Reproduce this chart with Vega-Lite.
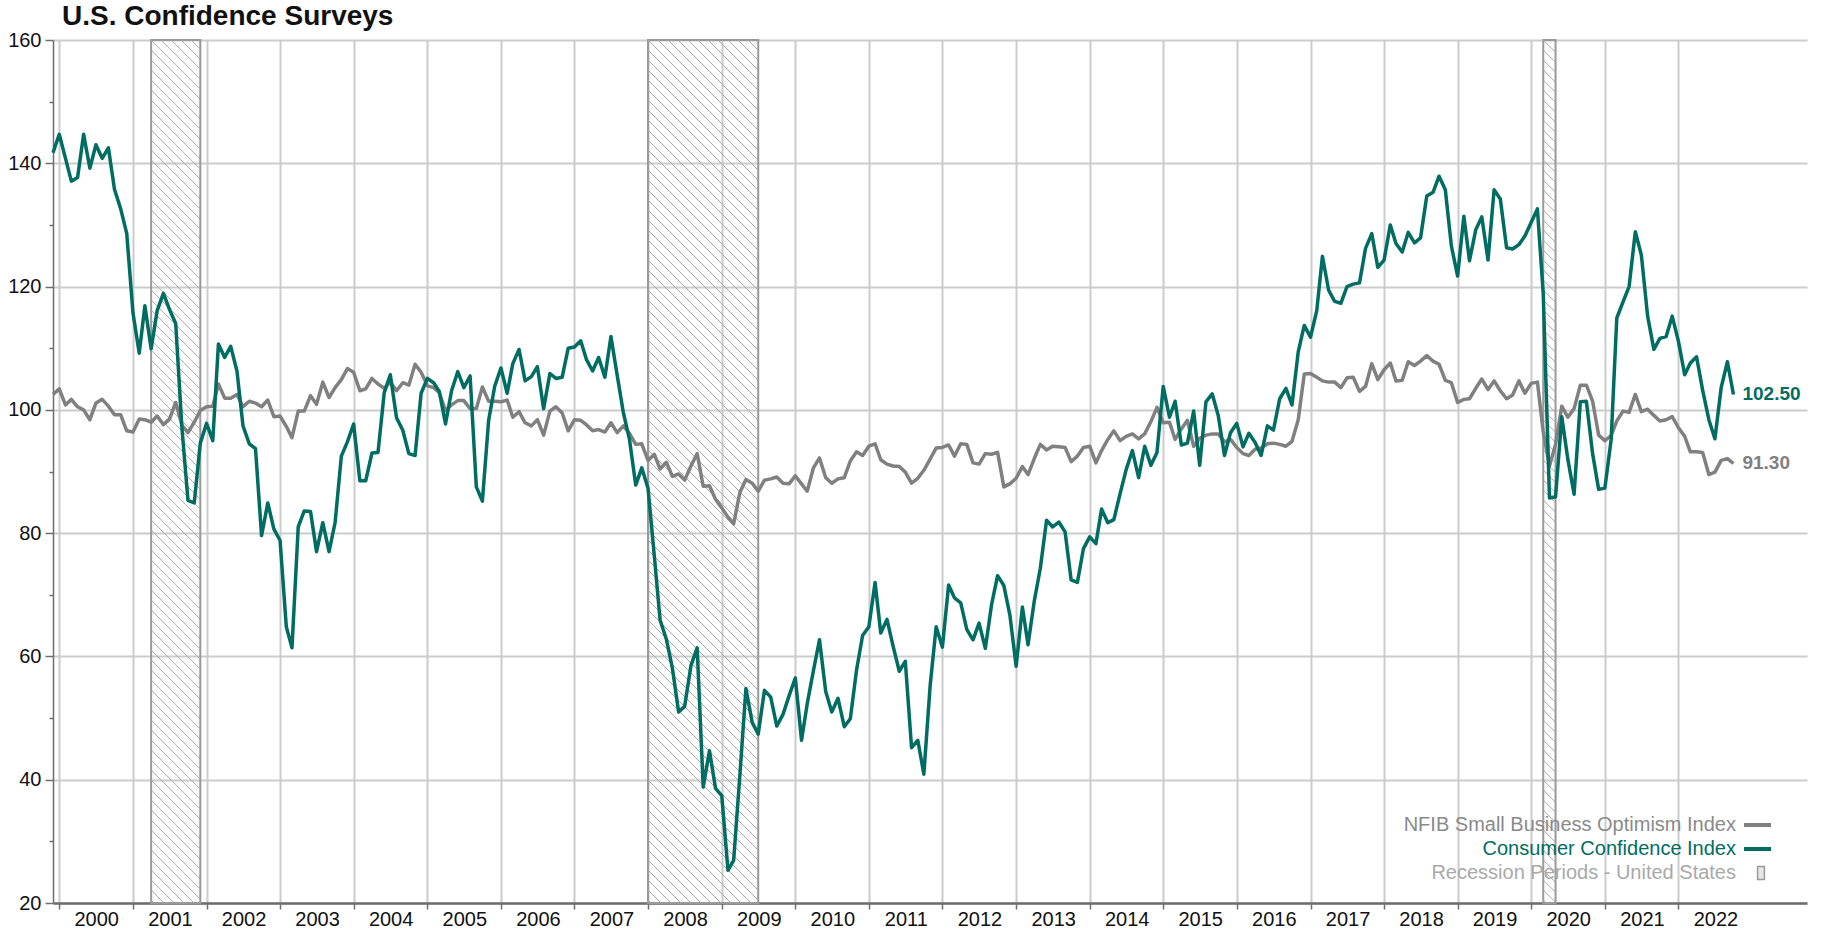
{
  "$schema": "https://vega.github.io/schema/vega-lite/v6.json",
  "width": 1754,
  "height": 863,
  "autosize": {"type": "none"},
  "padding": {"left": 53, "top": 40, "right": 14, "bottom": 32},
  "background": "#ffffff",
  "title": {"text": "U.S. Confidence Surveys", "anchor": "start", "frame": "group", "font": "Liberation Sans", "fontSize": 28, "fontWeight": "bold", "color": "#111111", "dx": 9, "dy": 24, "offset": 1, "baseline": "alphabetic"},
  "config": {"view": {"stroke": null}, "font": "Liberation Sans"},
  "datasets": {
    "rec": [
      {"start": "2001-04-01", "end": "2001-12-01", "series": "rec", "key": "r"},
      {"start": "2008-01-01", "end": "2009-07-01", "series": "rec", "key": "r"},
      {"start": "2020-03-01", "end": "2020-05-01", "series": "rec", "key": "r"}
    ],
    "monthly": [
      {"date": "1999-12-01", "nfib": 102.5, "cci": 141.7},
      {"date": "2000-01-01", "nfib": 103.4, "cci": 144.7},
      {"date": "2000-02-01", "nfib": 100.8, "cci": 140.8},
      {"date": "2000-03-01", "nfib": 101.7, "cci": 137.1},
      {"date": "2000-04-01", "nfib": 100.5, "cci": 137.7},
      {"date": "2000-05-01", "nfib": 100.0, "cci": 144.7},
      {"date": "2000-06-01", "nfib": 98.4, "cci": 139.2},
      {"date": "2000-07-01", "nfib": 101.1, "cci": 143.0},
      {"date": "2000-08-01", "nfib": 101.7, "cci": 140.8},
      {"date": "2000-09-01", "nfib": 100.6, "cci": 142.5},
      {"date": "2000-10-01", "nfib": 99.2, "cci": 135.8},
      {"date": "2000-11-01", "nfib": 99.2, "cci": 132.6},
      {"date": "2000-12-01", "nfib": 96.6, "cci": 128.6},
      {"date": "2001-01-01", "nfib": 96.4, "cci": 115.7},
      {"date": "2001-02-01", "nfib": 98.5, "cci": 109.2},
      {"date": "2001-03-01", "nfib": 98.4, "cci": 116.9},
      {"date": "2001-04-01", "nfib": 98.0, "cci": 109.9},
      {"date": "2001-05-01", "nfib": 99.0, "cci": 116.1},
      {"date": "2001-06-01", "nfib": 97.6, "cci": 118.9},
      {"date": "2001-07-01", "nfib": 98.5, "cci": 116.3},
      {"date": "2001-08-01", "nfib": 101.2, "cci": 114.0},
      {"date": "2001-09-01", "nfib": 97.5, "cci": 97.0},
      {"date": "2001-10-01", "nfib": 96.3, "cci": 85.3},
      {"date": "2001-11-01", "nfib": 98.0, "cci": 84.9},
      {"date": "2001-12-01", "nfib": 99.9, "cci": 94.6},
      {"date": "2002-01-01", "nfib": 100.5, "cci": 97.8},
      {"date": "2002-02-01", "nfib": 100.6, "cci": 95.0},
      {"date": "2002-03-01", "nfib": 104.2, "cci": 110.7},
      {"date": "2002-04-01", "nfib": 101.9, "cci": 108.5},
      {"date": "2002-05-01", "nfib": 101.9, "cci": 110.3},
      {"date": "2002-06-01", "nfib": 102.5, "cci": 106.3},
      {"date": "2002-07-01", "nfib": 100.5, "cci": 97.4},
      {"date": "2002-08-01", "nfib": 101.4, "cci": 94.5},
      {"date": "2002-09-01", "nfib": 101.1, "cci": 93.7},
      {"date": "2002-10-01", "nfib": 100.5, "cci": 79.6},
      {"date": "2002-11-01", "nfib": 101.6, "cci": 84.9},
      {"date": "2002-12-01", "nfib": 98.9, "cci": 80.7},
      {"date": "2003-01-01", "nfib": 99.0, "cci": 78.8},
      {"date": "2003-02-01", "nfib": 97.3, "cci": 64.8},
      {"date": "2003-03-01", "nfib": 95.5, "cci": 61.4},
      {"date": "2003-04-01", "nfib": 99.8, "cci": 81.0},
      {"date": "2003-05-01", "nfib": 99.8, "cci": 83.6},
      {"date": "2003-06-01", "nfib": 102.3, "cci": 83.5},
      {"date": "2003-07-01", "nfib": 100.9, "cci": 77.0},
      {"date": "2003-08-01", "nfib": 104.5, "cci": 81.7},
      {"date": "2003-09-01", "nfib": 102.0, "cci": 77.0},
      {"date": "2003-10-01", "nfib": 103.6, "cci": 81.7},
      {"date": "2003-11-01", "nfib": 104.9, "cci": 92.5},
      {"date": "2003-12-01", "nfib": 106.7, "cci": 94.8},
      {"date": "2004-01-01", "nfib": 106.1, "cci": 97.7},
      {"date": "2004-02-01", "nfib": 103.1, "cci": 88.5},
      {"date": "2004-03-01", "nfib": 103.4, "cci": 88.5},
      {"date": "2004-04-01", "nfib": 105.1, "cci": 93.0},
      {"date": "2004-05-01", "nfib": 104.2, "cci": 93.1},
      {"date": "2004-06-01", "nfib": 103.5, "cci": 102.8},
      {"date": "2004-07-01", "nfib": 104.5, "cci": 105.7},
      {"date": "2004-08-01", "nfib": 103.1, "cci": 98.7},
      {"date": "2004-09-01", "nfib": 104.4, "cci": 96.7},
      {"date": "2004-10-01", "nfib": 104.0, "cci": 92.9},
      {"date": "2004-11-01", "nfib": 107.4, "cci": 92.6},
      {"date": "2004-12-01", "nfib": 106.1, "cci": 102.7},
      {"date": "2005-01-01", "nfib": 103.9, "cci": 105.1},
      {"date": "2005-02-01", "nfib": 103.6, "cci": 104.4},
      {"date": "2005-03-01", "nfib": 102.8, "cci": 103.0},
      {"date": "2005-04-01", "nfib": 99.9, "cci": 97.7},
      {"date": "2005-05-01", "nfib": 100.8, "cci": 103.1},
      {"date": "2005-06-01", "nfib": 101.5, "cci": 106.2},
      {"date": "2005-07-01", "nfib": 101.5, "cci": 103.6},
      {"date": "2005-08-01", "nfib": 100.2, "cci": 105.5},
      {"date": "2005-09-01", "nfib": 100.2, "cci": 87.5},
      {"date": "2005-10-01", "nfib": 103.7, "cci": 85.2},
      {"date": "2005-11-01", "nfib": 101.4, "cci": 98.3},
      {"date": "2005-12-01", "nfib": 101.4, "cci": 103.8},
      {"date": "2006-01-01", "nfib": 101.3, "cci": 106.8},
      {"date": "2006-02-01", "nfib": 101.6, "cci": 102.7},
      {"date": "2006-03-01", "nfib": 98.8, "cci": 107.5},
      {"date": "2006-04-01", "nfib": 99.7, "cci": 109.8},
      {"date": "2006-05-01", "nfib": 97.9, "cci": 104.7},
      {"date": "2006-06-01", "nfib": 97.4, "cci": 105.4},
      {"date": "2006-07-01", "nfib": 98.4, "cci": 107.0},
      {"date": "2006-08-01", "nfib": 95.9, "cci": 100.2},
      {"date": "2006-09-01", "nfib": 99.8, "cci": 105.9},
      {"date": "2006-10-01", "nfib": 100.5, "cci": 105.1},
      {"date": "2006-11-01", "nfib": 99.5, "cci": 105.3},
      {"date": "2006-12-01", "nfib": 96.6, "cci": 110.0},
      {"date": "2007-01-01", "nfib": 98.4, "cci": 110.2},
      {"date": "2007-02-01", "nfib": 98.3, "cci": 111.2},
      {"date": "2007-03-01", "nfib": 97.6, "cci": 108.2},
      {"date": "2007-04-01", "nfib": 96.6, "cci": 106.3},
      {"date": "2007-05-01", "nfib": 96.8, "cci": 108.5},
      {"date": "2007-06-01", "nfib": 96.4, "cci": 105.3},
      {"date": "2007-07-01", "nfib": 97.9, "cci": 111.9},
      {"date": "2007-08-01", "nfib": 96.3, "cci": 105.6},
      {"date": "2007-09-01", "nfib": 97.4, "cci": 99.5},
      {"date": "2007-10-01", "nfib": 96.2, "cci": 95.2},
      {"date": "2007-11-01", "nfib": 94.4, "cci": 87.8},
      {"date": "2007-12-01", "nfib": 94.5, "cci": 90.6},
      {"date": "2008-01-01", "nfib": 91.8, "cci": 87.3},
      {"date": "2008-02-01", "nfib": 92.8, "cci": 76.4},
      {"date": "2008-03-01", "nfib": 90.4, "cci": 65.9},
      {"date": "2008-04-01", "nfib": 91.5, "cci": 62.8},
      {"date": "2008-05-01", "nfib": 89.2, "cci": 58.1},
      {"date": "2008-06-01", "nfib": 89.6, "cci": 51.0},
      {"date": "2008-07-01", "nfib": 88.6, "cci": 51.9},
      {"date": "2008-08-01", "nfib": 90.9, "cci": 58.5},
      {"date": "2008-09-01", "nfib": 92.9, "cci": 61.4},
      {"date": "2008-10-01", "nfib": 87.6, "cci": 38.8},
      {"date": "2008-11-01", "nfib": 87.7, "cci": 44.7},
      {"date": "2008-12-01", "nfib": 85.5, "cci": 38.6},
      {"date": "2009-01-01", "nfib": 84.1, "cci": 37.4},
      {"date": "2009-02-01", "nfib": 82.6, "cci": 25.3},
      {"date": "2009-03-01", "nfib": 81.5, "cci": 26.9},
      {"date": "2009-04-01", "nfib": 86.6, "cci": 40.8},
      {"date": "2009-05-01", "nfib": 88.7, "cci": 54.8},
      {"date": "2009-06-01", "nfib": 88.1, "cci": 49.3},
      {"date": "2009-07-01", "nfib": 86.8, "cci": 47.4},
      {"date": "2009-08-01", "nfib": 88.6, "cci": 54.5},
      {"date": "2009-09-01", "nfib": 88.8, "cci": 53.4},
      {"date": "2009-10-01", "nfib": 89.1, "cci": 48.7},
      {"date": "2009-11-01", "nfib": 88.1, "cci": 50.6},
      {"date": "2009-12-01", "nfib": 88.0, "cci": 53.6},
      {"date": "2010-01-01", "nfib": 89.3, "cci": 56.5},
      {"date": "2010-02-01", "nfib": 88.0, "cci": 46.4},
      {"date": "2010-03-01", "nfib": 86.8, "cci": 52.3},
      {"date": "2010-04-01", "nfib": 90.6, "cci": 57.7},
      {"date": "2010-05-01", "nfib": 92.2, "cci": 62.7},
      {"date": "2010-06-01", "nfib": 89.0, "cci": 54.3},
      {"date": "2010-07-01", "nfib": 88.1, "cci": 51.0},
      {"date": "2010-08-01", "nfib": 88.8, "cci": 53.2},
      {"date": "2010-09-01", "nfib": 89.0, "cci": 48.6},
      {"date": "2010-10-01", "nfib": 91.7, "cci": 49.9},
      {"date": "2010-11-01", "nfib": 93.2, "cci": 57.8},
      {"date": "2010-12-01", "nfib": 92.6, "cci": 63.4},
      {"date": "2011-01-01", "nfib": 94.1, "cci": 64.8},
      {"date": "2011-02-01", "nfib": 94.5, "cci": 72.0},
      {"date": "2011-03-01", "nfib": 91.9, "cci": 63.8},
      {"date": "2011-04-01", "nfib": 91.2, "cci": 66.0},
      {"date": "2011-05-01", "nfib": 90.9, "cci": 61.7},
      {"date": "2011-06-01", "nfib": 90.8, "cci": 57.6},
      {"date": "2011-07-01", "nfib": 89.9, "cci": 59.2},
      {"date": "2011-08-01", "nfib": 88.1, "cci": 45.2},
      {"date": "2011-09-01", "nfib": 88.9, "cci": 46.4},
      {"date": "2011-10-01", "nfib": 90.2, "cci": 40.9},
      {"date": "2011-11-01", "nfib": 92.0, "cci": 55.2},
      {"date": "2011-12-01", "nfib": 93.8, "cci": 64.8},
      {"date": "2012-01-01", "nfib": 93.9, "cci": 61.5},
      {"date": "2012-02-01", "nfib": 94.3, "cci": 71.6},
      {"date": "2012-03-01", "nfib": 92.5, "cci": 69.5},
      {"date": "2012-04-01", "nfib": 94.5, "cci": 68.7},
      {"date": "2012-05-01", "nfib": 94.4, "cci": 64.4},
      {"date": "2012-06-01", "nfib": 91.4, "cci": 62.7},
      {"date": "2012-07-01", "nfib": 91.2, "cci": 65.4},
      {"date": "2012-08-01", "nfib": 92.9, "cci": 61.3},
      {"date": "2012-09-01", "nfib": 92.8, "cci": 68.4},
      {"date": "2012-10-01", "nfib": 93.1, "cci": 73.1},
      {"date": "2012-11-01", "nfib": 87.5, "cci": 71.5},
      {"date": "2012-12-01", "nfib": 88.0, "cci": 66.7},
      {"date": "2013-01-01", "nfib": 88.9, "cci": 58.4},
      {"date": "2013-02-01", "nfib": 90.8, "cci": 68.0},
      {"date": "2013-03-01", "nfib": 89.5, "cci": 61.9},
      {"date": "2013-04-01", "nfib": 92.1, "cci": 69.0},
      {"date": "2013-05-01", "nfib": 94.4, "cci": 74.3},
      {"date": "2013-06-01", "nfib": 93.5, "cci": 82.1},
      {"date": "2013-07-01", "nfib": 94.1, "cci": 81.0},
      {"date": "2013-08-01", "nfib": 94.0, "cci": 81.8},
      {"date": "2013-09-01", "nfib": 93.9, "cci": 80.2},
      {"date": "2013-10-01", "nfib": 91.6, "cci": 72.4},
      {"date": "2013-11-01", "nfib": 92.5, "cci": 72.0},
      {"date": "2013-12-01", "nfib": 93.9, "cci": 77.5},
      {"date": "2014-01-01", "nfib": 94.1, "cci": 79.4},
      {"date": "2014-02-01", "nfib": 91.4, "cci": 78.3},
      {"date": "2014-03-01", "nfib": 93.4, "cci": 83.9},
      {"date": "2014-04-01", "nfib": 95.2, "cci": 81.7},
      {"date": "2014-05-01", "nfib": 96.6, "cci": 82.2},
      {"date": "2014-06-01", "nfib": 95.0, "cci": 86.4},
      {"date": "2014-07-01", "nfib": 95.7, "cci": 90.3},
      {"date": "2014-08-01", "nfib": 96.1, "cci": 93.4},
      {"date": "2014-09-01", "nfib": 95.3, "cci": 89.0},
      {"date": "2014-10-01", "nfib": 96.1, "cci": 94.1},
      {"date": "2014-11-01", "nfib": 98.1, "cci": 91.0},
      {"date": "2014-12-01", "nfib": 100.4, "cci": 93.1},
      {"date": "2015-01-01", "nfib": 97.9, "cci": 103.8},
      {"date": "2015-02-01", "nfib": 98.0, "cci": 98.8},
      {"date": "2015-03-01", "nfib": 95.2, "cci": 101.4},
      {"date": "2015-04-01", "nfib": 96.9, "cci": 94.3},
      {"date": "2015-05-01", "nfib": 98.3, "cci": 94.6},
      {"date": "2015-06-01", "nfib": 94.1, "cci": 99.8},
      {"date": "2015-07-01", "nfib": 95.4, "cci": 91.0},
      {"date": "2015-08-01", "nfib": 95.9, "cci": 101.3},
      {"date": "2015-09-01", "nfib": 96.1, "cci": 102.6},
      {"date": "2015-10-01", "nfib": 96.1, "cci": 99.1},
      {"date": "2015-11-01", "nfib": 94.8, "cci": 92.6},
      {"date": "2015-12-01", "nfib": 95.2, "cci": 96.3},
      {"date": "2016-01-01", "nfib": 93.9, "cci": 97.8},
      {"date": "2016-02-01", "nfib": 92.9, "cci": 94.0},
      {"date": "2016-03-01", "nfib": 92.6, "cci": 96.2},
      {"date": "2016-04-01", "nfib": 93.6, "cci": 94.7},
      {"date": "2016-05-01", "nfib": 93.8, "cci": 92.6},
      {"date": "2016-06-01", "nfib": 94.5, "cci": 97.4},
      {"date": "2016-07-01", "nfib": 94.6, "cci": 96.7},
      {"date": "2016-08-01", "nfib": 94.4, "cci": 101.8},
      {"date": "2016-09-01", "nfib": 94.1, "cci": 103.5},
      {"date": "2016-10-01", "nfib": 94.9, "cci": 100.8},
      {"date": "2016-11-01", "nfib": 98.4, "cci": 109.4},
      {"date": "2016-12-01", "nfib": 105.8, "cci": 113.7},
      {"date": "2017-01-01", "nfib": 105.9, "cci": 111.8},
      {"date": "2017-02-01", "nfib": 105.3, "cci": 116.1},
      {"date": "2017-03-01", "nfib": 104.7, "cci": 124.9},
      {"date": "2017-04-01", "nfib": 104.5, "cci": 119.4},
      {"date": "2017-05-01", "nfib": 104.5, "cci": 117.6},
      {"date": "2017-06-01", "nfib": 103.6, "cci": 117.3},
      {"date": "2017-07-01", "nfib": 105.2, "cci": 120.0},
      {"date": "2017-08-01", "nfib": 105.3, "cci": 120.4},
      {"date": "2017-09-01", "nfib": 103.0, "cci": 120.6},
      {"date": "2017-10-01", "nfib": 103.8, "cci": 126.2},
      {"date": "2017-11-01", "nfib": 107.5, "cci": 128.6},
      {"date": "2017-12-01", "nfib": 104.9, "cci": 123.1},
      {"date": "2018-01-01", "nfib": 106.5, "cci": 124.3},
      {"date": "2018-02-01", "nfib": 107.6, "cci": 130.0},
      {"date": "2018-03-01", "nfib": 104.7, "cci": 127.0},
      {"date": "2018-04-01", "nfib": 104.8, "cci": 125.6},
      {"date": "2018-05-01", "nfib": 107.8, "cci": 128.8},
      {"date": "2018-06-01", "nfib": 107.2, "cci": 127.1},
      {"date": "2018-07-01", "nfib": 107.9, "cci": 127.9},
      {"date": "2018-08-01", "nfib": 108.8, "cci": 134.7},
      {"date": "2018-09-01", "nfib": 107.9, "cci": 135.3},
      {"date": "2018-10-01", "nfib": 107.4, "cci": 137.9},
      {"date": "2018-11-01", "nfib": 104.8, "cci": 135.7},
      {"date": "2018-12-01", "nfib": 104.4, "cci": 126.6},
      {"date": "2019-01-01", "nfib": 101.2, "cci": 121.7},
      {"date": "2019-02-01", "nfib": 101.7, "cci": 131.4},
      {"date": "2019-03-01", "nfib": 101.8, "cci": 124.2},
      {"date": "2019-04-01", "nfib": 103.5, "cci": 129.2},
      {"date": "2019-05-01", "nfib": 105.0, "cci": 131.3},
      {"date": "2019-06-01", "nfib": 103.3, "cci": 124.3},
      {"date": "2019-07-01", "nfib": 104.7, "cci": 135.7},
      {"date": "2019-08-01", "nfib": 103.1, "cci": 134.2},
      {"date": "2019-09-01", "nfib": 101.8, "cci": 126.3},
      {"date": "2019-10-01", "nfib": 102.4, "cci": 126.1},
      {"date": "2019-11-01", "nfib": 104.7, "cci": 126.8},
      {"date": "2019-12-01", "nfib": 102.7, "cci": 128.2},
      {"date": "2020-01-01", "nfib": 104.3, "cci": 130.4},
      {"date": "2020-02-01", "nfib": 104.5, "cci": 132.6},
      {"date": "2020-03-01", "nfib": 96.4, "cci": 118.8},
      {"date": "2020-04-01", "nfib": 90.9, "cci": 85.7},
      {"date": "2020-05-01", "nfib": 94.4, "cci": 85.9},
      {"date": "2020-06-01", "nfib": 100.6, "cci": 98.9},
      {"date": "2020-07-01", "nfib": 98.8, "cci": 92.0},
      {"date": "2020-08-01", "nfib": 100.2, "cci": 86.3},
      {"date": "2020-09-01", "nfib": 104.0, "cci": 101.3},
      {"date": "2020-10-01", "nfib": 104.0, "cci": 101.4},
      {"date": "2020-11-01", "nfib": 101.4, "cci": 92.9},
      {"date": "2020-12-01", "nfib": 95.9, "cci": 87.1},
      {"date": "2021-01-01", "nfib": 95.0, "cci": 87.3},
      {"date": "2021-02-01", "nfib": 95.8, "cci": 95.2},
      {"date": "2021-03-01", "nfib": 98.2, "cci": 114.9},
      {"date": "2021-04-01", "nfib": 99.8, "cci": 117.5},
      {"date": "2021-05-01", "nfib": 99.6, "cci": 120.0},
      {"date": "2021-06-01", "nfib": 102.5, "cci": 128.9},
      {"date": "2021-07-01", "nfib": 99.7, "cci": 125.1},
      {"date": "2021-08-01", "nfib": 100.1, "cci": 115.2},
      {"date": "2021-09-01", "nfib": 99.1, "cci": 109.8},
      {"date": "2021-10-01", "nfib": 98.2, "cci": 111.6},
      {"date": "2021-11-01", "nfib": 98.4, "cci": 111.9},
      {"date": "2021-12-01", "nfib": 98.9, "cci": 115.2},
      {"date": "2022-01-01", "nfib": 97.1, "cci": 111.1},
      {"date": "2022-02-01", "nfib": 95.7, "cci": 105.7},
      {"date": "2022-03-01", "nfib": 93.2, "cci": 107.6},
      {"date": "2022-04-01", "nfib": 93.2, "cci": 108.6},
      {"date": "2022-05-01", "nfib": 93.1, "cci": 103.2},
      {"date": "2022-06-01", "nfib": 89.5, "cci": 98.4},
      {"date": "2022-07-01", "nfib": 89.9, "cci": 95.3},
      {"date": "2022-08-01", "nfib": 91.8, "cci": 103.6},
      {"date": "2022-09-01", "nfib": 92.1, "cci": 107.8},
      {"date": "2022-10-01", "nfib": 91.3, "cci": 102.5}
    ]
  },
  "layer": [
    {
      "data": {"name": "rec"},
      "mark": {"type": "rect", "filled": false, "strokeWidth": 2},
      "encoding": {
        "x": {"field": "start", "type": "temporal", "title": null},
        "x2": {"field": "end"},
        "stroke": {"field": "key", "type": "nominal", "title": null,
          "scale": {"domain": ["n", "c", "r"], "range": ["#808080", "#006d63", "#999999"]},
          "legend": {"orient": "none", "legendX": 1398, "legendY": 775, "direction": "vertical", "title": null,
            "labelExpr": "''", "labelOffset": 0, "symbolOffset": 300, "labelLimit": 20,
            "labelFontSize": 20, "labelFont": "Liberation Sans", "symbolSize": 1156, "clipHeight": 20, "rowPadding": 4, "padding": 0,
            "encode": {
              "symbols": {"update": {
                "shape": {"signal": "datum.value === 'r' ? 'M-0.2,-0.38h0.4v0.76h-0.4z' : 'stroke'"},
                "stroke": {"signal": "datum.value === 'n' ? '#808080' : datum.value === 'c' ? '#006d63' : '#8c8c8c'"},
                "strokeWidth": {"signal": "datum.value === 'r' ? 1.5 : 4"},
                "fill": {"signal": "datum.value === 'r' ? '#e6e6e6' : 'transparent'"},
                "opacity": {"value": 1}}}}}}
      }
    },
    {
      "data": {"name": "rec"},
      "transform": [{"filter": "utcyear(datum.start) === 2001"}],
      "mark": {"type": "point", "filled": false, "size": 4, "color": "#a8a8a8", "strokeWidth": 1, "opacity": 1, "clip": true,
        "shape": "M40,0L49.2,9.2M30,0L49.2,19.2M20,0L49.2,29.2M10,0L49.2,39.2M0,0l49.2,49.2m-49.2,-39.2l49.2,49.2m-49.2,-39.2l49.2,49.2m-49.2,-39.2l49.2,49.2m-49.2,-39.2l49.2,49.2m-49.2,-39.2l49.2,49.2m-49.2,-39.2l49.2,49.2m-49.2,-39.2l49.2,49.2m-49.2,-39.2l49.2,49.2m-49.2,-39.2l49.2,49.2m-49.2,-39.2l49.2,49.2m-49.2,-39.2l49.2,49.2m-49.2,-39.2l49.2,49.2m-49.2,-39.2l49.2,49.2m-49.2,-39.2l49.2,49.2m-49.2,-39.2l49.2,49.2m-49.2,-39.2l49.2,49.2m-49.2,-39.2l49.2,49.2m-49.2,-39.2l49.2,49.2m-49.2,-39.2l49.2,49.2m-49.2,-39.2l49.2,49.2m-49.2,-39.2l49.2,49.2m-49.2,-39.2l49.2,49.2m-49.2,-39.2l49.2,49.2m-49.2,-39.2l49.2,49.2m-49.2,-39.2l49.2,49.2m-49.2,-39.2l49.2,49.2m-49.2,-39.2l49.2,49.2m-49.2,-39.2l49.2,49.2m-49.2,-39.2l49.2,49.2m-49.2,-39.2l49.2,49.2m-49.2,-39.2l49.2,49.2m-49.2,-39.2l49.2,49.2m-49.2,-39.2l49.2,49.2m-49.2,-39.2l49.2,49.2m-49.2,-39.2l49.2,49.2m-49.2,-39.2l49.2,49.2m-49.2,-39.2l49.2,49.2m-49.2,-39.2l49.2,49.2m-49.2,-39.2l49.2,49.2m-49.2,-39.2l49.2,49.2m-49.2,-39.2l49.2,49.2m-49.2,-39.2l49.2,49.2m-49.2,-39.2l49.2,49.2m-49.2,-39.2l49.2,49.2m-49.2,-39.2l49.2,49.2m-49.2,-39.2l49.2,49.2m-49.2,-39.2l49.2,49.2m-49.2,-39.2l49.2,49.2m-49.2,-39.2l49.2,49.2m-49.2,-39.2l49.2,49.2m-49.2,-39.2l49.2,49.2m-49.2,-39.2l49.2,49.2m-49.2,-39.2l49.2,49.2m-49.2,-39.2l49.2,49.2m-49.2,-39.2l49.2,49.2m-49.2,-39.2l49.2,49.2m-49.2,-39.2l49.2,49.2m-49.2,-39.2l49.2,49.2m-49.2,-39.2l49.2,49.2m-49.2,-39.2l49.2,49.2m-49.2,-39.2l49.2,49.2m-49.2,-39.2l49.2,49.2m-49.2,-39.2l49.2,49.2m-49.2,-39.2l49.2,49.2m-49.2,-39.2l49.2,49.2m-49.2,-39.2l49.2,49.2m-49.2,-39.2l49.2,49.2m-49.2,-39.2l49.2,49.2m-49.2,-39.2l49.2,49.2m-49.2,-39.2l49.2,49.2m-49.2,-39.2l49.2,49.2m-49.2,-39.2l49.2,49.2m-49.2,-39.2l49.2,49.2m-49.2,-39.2l49.2,49.2m-49.2,-39.2l49.2,49.2m-49.2,-39.2l49.2,49.2m-49.2,-39.2l49.2,49.2m-49.2,-39.2l49.2,49.2m-49.2,-39.2l49.2,49.2m-49.2,-39.2l49.2,49.2m-49.2,-39.2l49.2,49.2m-49.2,-39.2l49.2,49.2m-49.2,-39.2l49.2,49.2m-49.2,-39.2l49.2,49.2m-49.2,-39.2l49.2,49.2m-49.2,-39.2l49.2,49.2m-49.2,-39.2l49.2,49.2m-49.2,-39.2l49.2,49.2m-49.2,-39.2l49.2,49.2m-49.2,-39.2l49.2,49.2m-49.2,-39.2l49.2,49.2m-49.2,-39.2l49.2,49.2m-49.2,-39.2l49.2,49.2m-49.2,-39.2l49.2,49.2m-49.2,-39.2l49.2,49.2m-49.2,-39.2l49.2,49.2m-49.2,-39.2l49.2,49.2m-49.2,-39.2l49.2,49.2m-49.2,-39.2l49.2,49.2m-49.2,-39.2l49.2,49.2m-49.2,-39.2l49.2,49.2m-49.2,-39.2l49.2,49.2m-49.2,-39.2l49.2,49.2m-49.2,-39.2l49.2,49.2m-49.2,-39.2l49.2,49.2m-49.2,-39.2l49.2,49.2m-49.2,-39.2l49.2,49.2m-49.2,-39.2l49.2,49.2m-49.2,-39.2l49.2,49.2m-49.2,-39.2l49.2,49.2m-49.2,-39.2l49.2,49.2m-49.2,-39.2"},
      "encoding": {
        "x": {"field": "start", "type": "temporal", "title": null},
        "y": {"datum": 160, "type": "quantitative", "title": null}
      }
    },
    {
      "data": {"name": "rec"},
      "transform": [{"filter": "utcyear(datum.start) === 2008"}],
      "mark": {"type": "point", "filled": false, "size": 4, "color": "#a8a8a8", "strokeWidth": 1, "opacity": 1, "clip": true,
        "shape": "M100,0L110.2,10.2M90,0L110.2,20.2M80,0L110.2,30.2M70,0L110.2,40.2M60,0L110.2,50.2M50,0L110.2,60.2M40,0L110.2,70.2M30,0L110.2,80.2M20,0L110.2,90.2M10,0L110.2,100.2M0,0l110.2,110.2m-110.2,-100.2l110.2,110.2m-110.2,-100.2l110.2,110.2m-110.2,-100.2l110.2,110.2m-110.2,-100.2l110.2,110.2m-110.2,-100.2l110.2,110.2m-110.2,-100.2l110.2,110.2m-110.2,-100.2l110.2,110.2m-110.2,-100.2l110.2,110.2m-110.2,-100.2l110.2,110.2m-110.2,-100.2l110.2,110.2m-110.2,-100.2l110.2,110.2m-110.2,-100.2l110.2,110.2m-110.2,-100.2l110.2,110.2m-110.2,-100.2l110.2,110.2m-110.2,-100.2l110.2,110.2m-110.2,-100.2l110.2,110.2m-110.2,-100.2l110.2,110.2m-110.2,-100.2l110.2,110.2m-110.2,-100.2l110.2,110.2m-110.2,-100.2l110.2,110.2m-110.2,-100.2l110.2,110.2m-110.2,-100.2l110.2,110.2m-110.2,-100.2l110.2,110.2m-110.2,-100.2l110.2,110.2m-110.2,-100.2l110.2,110.2m-110.2,-100.2l110.2,110.2m-110.2,-100.2l110.2,110.2m-110.2,-100.2l110.2,110.2m-110.2,-100.2l110.2,110.2m-110.2,-100.2l110.2,110.2m-110.2,-100.2l110.2,110.2m-110.2,-100.2l110.2,110.2m-110.2,-100.2l110.2,110.2m-110.2,-100.2l110.2,110.2m-110.2,-100.2l110.2,110.2m-110.2,-100.2l110.2,110.2m-110.2,-100.2l110.2,110.2m-110.2,-100.2l110.2,110.2m-110.2,-100.2l110.2,110.2m-110.2,-100.2l110.2,110.2m-110.2,-100.2l110.2,110.2m-110.2,-100.2l110.2,110.2m-110.2,-100.2l110.2,110.2m-110.2,-100.2l110.2,110.2m-110.2,-100.2l110.2,110.2m-110.2,-100.2l110.2,110.2m-110.2,-100.2l110.2,110.2m-110.2,-100.2l110.2,110.2m-110.2,-100.2l110.2,110.2m-110.2,-100.2l110.2,110.2m-110.2,-100.2l110.2,110.2m-110.2,-100.2l110.2,110.2m-110.2,-100.2l110.2,110.2m-110.2,-100.2l110.2,110.2m-110.2,-100.2l110.2,110.2m-110.2,-100.2l110.2,110.2m-110.2,-100.2l110.2,110.2m-110.2,-100.2l110.2,110.2m-110.2,-100.2l110.2,110.2m-110.2,-100.2l110.2,110.2m-110.2,-100.2l110.2,110.2m-110.2,-100.2l110.2,110.2m-110.2,-100.2l110.2,110.2m-110.2,-100.2l110.2,110.2m-110.2,-100.2l110.2,110.2m-110.2,-100.2l110.2,110.2m-110.2,-100.2l110.2,110.2m-110.2,-100.2l110.2,110.2m-110.2,-100.2l110.2,110.2m-110.2,-100.2l110.2,110.2m-110.2,-100.2l110.2,110.2m-110.2,-100.2l110.2,110.2m-110.2,-100.2l110.2,110.2m-110.2,-100.2l110.2,110.2m-110.2,-100.2l110.2,110.2m-110.2,-100.2l110.2,110.2m-110.2,-100.2l110.2,110.2m-110.2,-100.2l110.2,110.2m-110.2,-100.2l110.2,110.2m-110.2,-100.2l110.2,110.2m-110.2,-100.2l110.2,110.2m-110.2,-100.2l110.2,110.2m-110.2,-100.2l110.2,110.2m-110.2,-100.2l110.2,110.2m-110.2,-100.2l110.2,110.2m-110.2,-100.2l110.2,110.2m-110.2,-100.2l110.2,110.2m-110.2,-100.2l110.2,110.2m-110.2,-100.2l110.2,110.2m-110.2,-100.2l110.2,110.2m-110.2,-100.2l110.2,110.2m-110.2,-100.2l110.2,110.2m-110.2,-100.2l110.2,110.2m-110.2,-100.2l110.2,110.2m-110.2,-100.2l110.2,110.2m-110.2,-100.2l110.2,110.2m-110.2,-100.2l110.2,110.2m-110.2,-100.2l110.2,110.2m-110.2,-100.2l110.2,110.2m-110.2,-100.2l110.2,110.2m-110.2,-100.2l110.2,110.2m-110.2,-100.2l110.2,110.2m-110.2,-100.2l110.2,110.2m-110.2,-100.2l110.2,110.2m-110.2,-100.2l110.2,110.2m-110.2,-100.2l110.2,110.2m-110.2,-100.2l110.2,110.2m-110.2,-100.2"},
      "encoding": {
        "x": {"field": "start", "type": "temporal", "title": null},
        "y": {"datum": 160, "type": "quantitative", "title": null}
      }
    },
    {
      "data": {"name": "rec"},
      "transform": [{"filter": "utcyear(datum.start) === 2020"}],
      "mark": {"type": "point", "filled": false, "size": 4, "color": "#a8a8a8", "strokeWidth": 1, "opacity": 1, "clip": true,
        "shape": "M10,0L12.3,2.3M0,0l12.3,12.3m-12.3,-2.3l12.3,12.3m-12.3,-2.3l12.3,12.3m-12.3,-2.3l12.3,12.3m-12.3,-2.3l12.3,12.3m-12.3,-2.3l12.3,12.3m-12.3,-2.3l12.3,12.3m-12.3,-2.3l12.3,12.3m-12.3,-2.3l12.3,12.3m-12.3,-2.3l12.3,12.3m-12.3,-2.3l12.3,12.3m-12.3,-2.3l12.3,12.3m-12.3,-2.3l12.3,12.3m-12.3,-2.3l12.3,12.3m-12.3,-2.3l12.3,12.3m-12.3,-2.3l12.3,12.3m-12.3,-2.3l12.3,12.3m-12.3,-2.3l12.3,12.3m-12.3,-2.3l12.3,12.3m-12.3,-2.3l12.3,12.3m-12.3,-2.3l12.3,12.3m-12.3,-2.3l12.3,12.3m-12.3,-2.3l12.3,12.3m-12.3,-2.3l12.3,12.3m-12.3,-2.3l12.3,12.3m-12.3,-2.3l12.3,12.3m-12.3,-2.3l12.3,12.3m-12.3,-2.3l12.3,12.3m-12.3,-2.3l12.3,12.3m-12.3,-2.3l12.3,12.3m-12.3,-2.3l12.3,12.3m-12.3,-2.3l12.3,12.3m-12.3,-2.3l12.3,12.3m-12.3,-2.3l12.3,12.3m-12.3,-2.3l12.3,12.3m-12.3,-2.3l12.3,12.3m-12.3,-2.3l12.3,12.3m-12.3,-2.3l12.3,12.3m-12.3,-2.3l12.3,12.3m-12.3,-2.3l12.3,12.3m-12.3,-2.3l12.3,12.3m-12.3,-2.3l12.3,12.3m-12.3,-2.3l12.3,12.3m-12.3,-2.3l12.3,12.3m-12.3,-2.3l12.3,12.3m-12.3,-2.3l12.3,12.3m-12.3,-2.3l12.3,12.3m-12.3,-2.3l12.3,12.3m-12.3,-2.3l12.3,12.3m-12.3,-2.3l12.3,12.3m-12.3,-2.3l12.3,12.3m-12.3,-2.3l12.3,12.3m-12.3,-2.3l12.3,12.3m-12.3,-2.3l12.3,12.3m-12.3,-2.3l12.3,12.3m-12.3,-2.3l12.3,12.3m-12.3,-2.3l12.3,12.3m-12.3,-2.3l12.3,12.3m-12.3,-2.3l12.3,12.3m-12.3,-2.3l12.3,12.3m-12.3,-2.3l12.3,12.3m-12.3,-2.3l12.3,12.3m-12.3,-2.3l12.3,12.3m-12.3,-2.3l12.3,12.3m-12.3,-2.3l12.3,12.3m-12.3,-2.3l12.3,12.3m-12.3,-2.3l12.3,12.3m-12.3,-2.3l12.3,12.3m-12.3,-2.3l12.3,12.3m-12.3,-2.3l12.3,12.3m-12.3,-2.3l12.3,12.3m-12.3,-2.3l12.3,12.3m-12.3,-2.3l12.3,12.3m-12.3,-2.3l12.3,12.3m-12.3,-2.3l12.3,12.3m-12.3,-2.3l12.3,12.3m-12.3,-2.3l12.3,12.3m-12.3,-2.3l12.3,12.3m-12.3,-2.3l12.3,12.3m-12.3,-2.3l12.3,12.3m-12.3,-2.3l12.3,12.3m-12.3,-2.3l12.3,12.3m-12.3,-2.3l12.3,12.3m-12.3,-2.3l12.3,12.3m-12.3,-2.3l12.3,12.3m-12.3,-2.3l12.3,12.3m-12.3,-2.3l12.3,12.3m-12.3,-2.3l12.3,12.3m-12.3,-2.3l12.3,12.3m-12.3,-2.3l12.3,12.3m-12.3,-2.3l12.3,12.3m-12.3,-2.3l12.3,12.3m-12.3,-2.3l12.3,12.3m-12.3,-2.3l12.3,12.3m-12.3,-2.3l12.3,12.3m-12.3,-2.3l12.3,12.3m-12.3,-2.3l12.3,12.3m-12.3,-2.3l12.3,12.3m-12.3,-2.3l12.3,12.3m-12.3,-2.3"},
      "encoding": {
        "x": {"field": "start", "type": "temporal", "title": null},
        "y": {"datum": 160, "type": "quantitative", "title": null}
      }
    },
    {
      "data": {"name": "monthly"},
      "transform": [{"fold": ["nfib", "cci"], "as": ["series", "value"]}],
      "mark": {"type": "line", "strokeWidth": 3.5, "strokeJoin": "round"},
      "encoding": {
        "x": {"field": "date", "type": "temporal", "title": null,
          "scale": {"type": "utc", "domain": [{"year": 1999, "month": 12, "date": 1, "utc": true}, {"year": 2023, "month": 10, "date": 1, "utc": true}]},
          "axis": {"title": null, "format": "%Y", "labelOffset": 37, "labelAlign": "center", "labelFontSize": 20, "labelFont": "Liberation Sans", "labelColor": "#111111", "labelPadding": 0, "tickSize": 6, "tickColor": "#6e6e6e", "tickWidth": 1.5, "domainColor": "#6e6e6e", "domainWidth": 2.5, "grid": true, "gridColor": "#cccccc", "gridWidth": 2, "labelFlush": false, "labelOverlap": false, "labelBound": false,
            "values": [{"year": 2000, "month": 1, "date": 1, "utc": true}, {"year": 2001, "month": 1, "date": 1, "utc": true}, {"year": 2002, "month": 1, "date": 1, "utc": true}, {"year": 2003, "month": 1, "date": 1, "utc": true}, {"year": 2004, "month": 1, "date": 1, "utc": true}, {"year": 2005, "month": 1, "date": 1, "utc": true}, {"year": 2006, "month": 1, "date": 1, "utc": true}, {"year": 2007, "month": 1, "date": 1, "utc": true}, {"year": 2008, "month": 1, "date": 1, "utc": true}, {"year": 2009, "month": 1, "date": 1, "utc": true}, {"year": 2010, "month": 1, "date": 1, "utc": true}, {"year": 2011, "month": 1, "date": 1, "utc": true}, {"year": 2012, "month": 1, "date": 1, "utc": true}, {"year": 2013, "month": 1, "date": 1, "utc": true}, {"year": 2014, "month": 1, "date": 1, "utc": true}, {"year": 2015, "month": 1, "date": 1, "utc": true}, {"year": 2016, "month": 1, "date": 1, "utc": true}, {"year": 2017, "month": 1, "date": 1, "utc": true}, {"year": 2018, "month": 1, "date": 1, "utc": true}, {"year": 2019, "month": 1, "date": 1, "utc": true}, {"year": 2020, "month": 1, "date": 1, "utc": true}, {"year": 2021, "month": 1, "date": 1, "utc": true}, {"year": 2022, "month": 1, "date": 1, "utc": true}]}},
        "y": {"field": "value", "type": "quantitative", "title": null,
          "scale": {"domain": [20, 160], "nice": false, "zero": false},
          "axis": {"title": null, "grid": true, "values": [20, 30, 40, 50, 60, 70, 80, 90, 100, 110, 120, 130, 140, 150, 160],
            "labelExpr": "datum.value % 20 === 0 ? datum.label : ''",
            "gridColor": {"condition": {"test": "datum.value % 20 !== 0", "value": "transparent"}, "value": "#cccccc"},
            "tickSize": {"condition": {"test": "datum.value % 20 !== 0", "value": 4}, "value": 8},
            "gridWidth": 2, "domainColor": "#6e6e6e", "domainWidth": 1.5, "tickColor": "#6e6e6e", "tickWidth": 1.5,
            "labelFontSize": 20, "labelFont": "Liberation Sans", "labelColor": "#111111", "labelPadding": 4}},
        "color": {"field": "series", "type": "nominal", "title": null,
          "scale": {"domain": ["nfib", "cci", "rec"], "range": ["#808080", "#006d63", "#999999"]},
          "legend": {"orient": "none", "legendX": 1701, "legendY": 775, "direction": "vertical", "title": null,
            "labelAlign": "right", "labelOffset": -38, "symbolOffset": 0, "labelLimit": 600,
            "labelFontSize": 20, "labelFont": "Liberation Sans", "symbolSize": 1156, "clipHeight": 20, "rowPadding": 4, "padding": 0,
            "labelExpr": "datum.value === 'nfib' ? 'NFIB Small Business Optimism Index' : datum.value === 'cci' ? 'Consumer Confidence Index' : 'Recession Periods - United States'",
            "encode": {
              "labels": {"update": {"fill": {"signal": "datum.value === 'nfib' ? '#8a8a8a' : datum.value === 'cci' ? '#006d63' : '#a9a9a9'"}}},
              "symbols": {"update": {
                "shape": {"signal": "datum.value === 'rec' ? 'M-0.2,-0.38h0.4v0.76h-0.4z' : 'stroke'"},
                "stroke": {"signal": "datum.value === 'nfib' ? '#808080' : datum.value === 'cci' ? '#006d63' : '#8c8c8c'"},
                "strokeWidth": {"signal": "datum.value === 'rec' ? 1.5 : 4"},
                "fill": {"signal": "datum.value === 'rec' ? '#e6e6e6' : 'transparent'"},
                "opacity": {"value": 0}}}}}}
      }
    },
    {
      "data": {"name": "monthly"},
      "transform": [{"filter": "utcyear(datum.date) === 2022 && utcmonth(datum.date) === 9"}, {"fold": ["nfib", "cci"], "as": ["series", "value"]}],
      "mark": {"type": "text", "align": "left", "baseline": "middle", "dx": 9, "fontSize": 19, "fontWeight": "bold", "font": "Liberation Sans"},
      "encoding": {
        "x": {"field": "date", "type": "temporal", "title": null},
        "y": {"field": "value", "type": "quantitative", "title": null},
        "text": {"field": "value", "type": "quantitative", "format": ".2f"},
        "color": {"condition": {"test": "datum.series === 'cci'", "value": "#006d63"}, "value": "#808080"}
      }
    }
  ]
}
